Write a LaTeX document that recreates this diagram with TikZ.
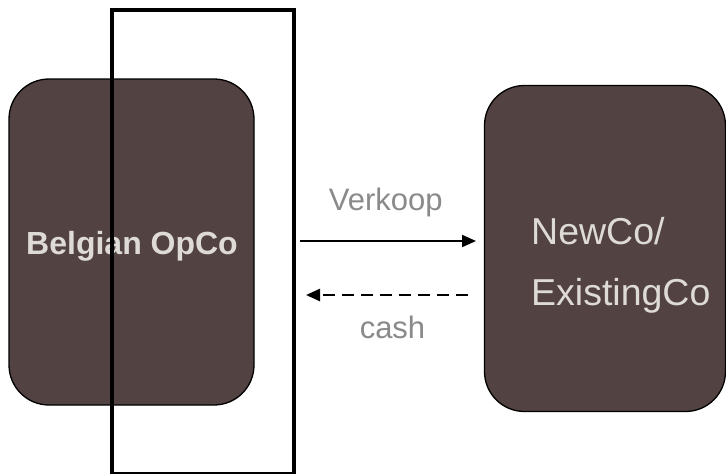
\documentclass[tikz,border=0pt]{standalone}
\usepackage{fontspec}
\setmainfont{Liberation Sans}
\usetikzlibrary{arrows.meta}
\definecolor{boxfill}{HTML}{524241}
\definecolor{boxtext}{HTML}{DEDAD5}
\definecolor{labelgrey}{HTML}{8A8A8A}
\tikzset{
  entity/.style={draw=black, line width=1.3pt, fill=boxfill, rounded corners=40pt, inner sep=0pt},
  flowlabel/.style={text=labelgrey, font=\fontsize{31}{36}\selectfont, inner sep=0pt, anchor=base},
  flowarrow/.style={line width=2pt, -{Triangle[length=14pt,width=12pt]}},
  cashflow/.style={line width=2.5pt, dash pattern=on 12pt off 7pt, -{Triangle[length=14pt,width=12pt]}},
  frame/.style={draw=black, line width=4pt}
}
\begin{document}
\begin{tikzpicture}[x=1pt,y=-1pt]
\useasboundingbox (0,0) rectangle (726,474);
\fill[white] (0,0) rectangle (726,474);
% boxes
\node[entity, minimum width=245pt, minimum height=326pt] (opco) at (131.5,242) {};
\node[entity, minimum width=241pt, minimum height=326pt] (newco) at (605,248.5) {};
% texts
\node[text=boxtext, font=\bfseries\fontsize{32}{36}\selectfont, inner sep=0pt, anchor=base] (opcotext) at (132,254.3) {Belgian OpCo};
\node[text=boxtext, font=\fontsize{37.5}{40}\selectfont, inner sep=0pt, anchor=base west] (nctexta) at (531,244.3) {NewCo/};
\node[text=boxtext, font=\fontsize{37.5}{40}\selectfont, inner sep=0pt, anchor=base west] (nctextb) at (531,305) {ExistingCo};
% frame
\draw[frame] (112,10) rectangle (294,474);
% arrows
\coordinate (sellstart) at (300,241);
\coordinate (sellend) at (476,241);
\coordinate (cashstart) at (468,295);
\coordinate (cashend) at (306,295);
\draw[flowarrow] (sellstart) -- (sellend);
\draw[cashflow] (cashstart) -- (cashend);
\node[flowlabel] (verkoop) at (385.8,210.7) {Verkoop};
\node[flowlabel] (cash) at (392.5,338.3) {cash};
\end{tikzpicture}
\end{document}
